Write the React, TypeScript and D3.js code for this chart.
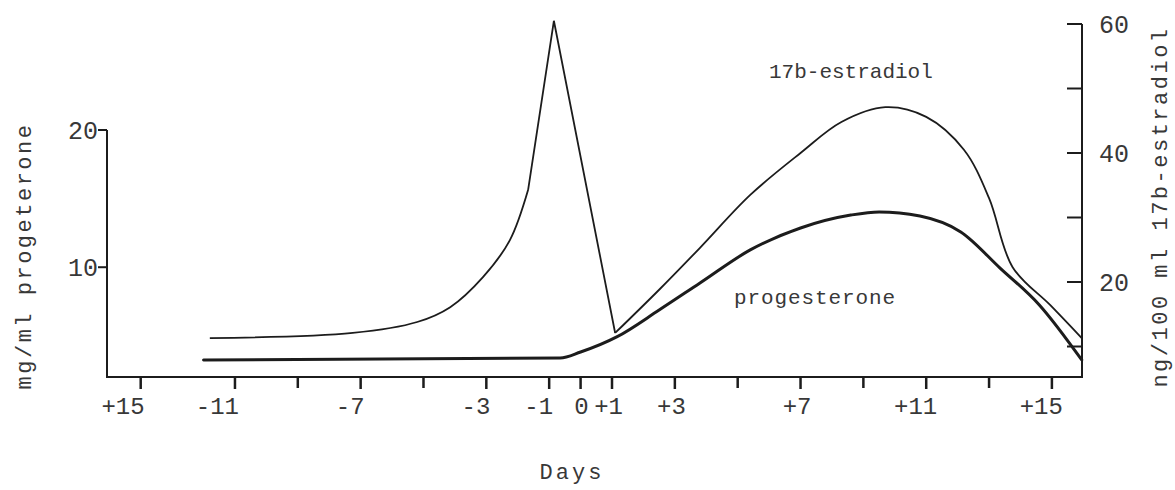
import React from "react";
import * as d3 from "d3";

// ---- data ----
const estradiolDays = [-11.8, -7.25, -5.2, -4.15, -3.1, -2.25, -1.67, -0.85, 1.1, 2.5, 3.8, 5.4, 7.0, 8.3, 9.7, 11.0, 12.2, 13.0, 13.75, 14.95, 15.95];
const estradiolValues = [11.3, 12.1, 13.8, 16.1, 20.8, 26.5, 34.3, 60.5, 12.1, 18.8, 25.3, 33.5, 40.0, 44.8, 47.1, 45.6, 40.5, 33.0, 22.3, 16.4, 11.3];

const progesteroneDays = [-12.0, -0.65, 0, 1.15, 2.5, 3.8, 5.4, 7.0, 8.6, 9.5, 10.8, 12.1, 13.35, 14.6, 15.95];
const progesteroneValues = [3.24, 3.38, 3.82, 4.92, 6.88, 8.85, 11.26, 12.86, 13.8, 14.03, 13.73, 12.57, 9.94, 7.25, 3.24];

const dayTicks = [-14, -11, -9, -7, -5, -3, -1, 0, 1, 3, 5, 7, 9, 11, 13, 15];
const dayTickLabels = ["+15", "-11", "", "-7", "", "-3", "-1", "0", "+1", "+3", "", "+7", "", "+11", "", "+15"];

const progTicks = [20, 10];
const progTickLabels = ["20", "10"];

const estrTicks = [60, 50, 40, 30, 20, 10];
const estrTickLabels = ["60", "", "40", "", "20", ""];

const FONT = "'Liberation Mono', 'DejaVu Sans Mono', monospace";
const INK = "#1c1c1c";
const TEXT = "#383838";

type Pt = { d: number; v: number };

export default function App() {
  const xLeft = 107;
  const xRight = 1082;
  const yBottom = 377;

  const x = d3.scaleLinear().domain([-14, 15]).range([140.7, 1051.9]);
  const yP = d3.scaleLinear().domain([2, 20]).range([377, 130]);
  const yE = d3.scaleLinear().domain([20, 60]).range([282, 24]);

  const eData: Pt[] = estradiolDays.map((d, i) => ({ d, v: estradiolValues[i] }));
  const pData: Pt[] = progesteroneDays.map((d, i) => ({ d, v: progesteroneValues[i] }));

  // estradiol: smooth rise up to the kink, straight spike, smooth after the trough
  const kinkIdx = 6;
  const troughIdx = 8;
  const smoothE = d3.line<Pt>()
    .x((p) => x(p.d))
    .y((p) => yE(p.v))
    .curve(d3.curveCatmullRom.alpha(0.5));
  const linearE = d3.line<Pt>()
    .x((p) => x(p.d))
    .y((p) => yE(p.v));
  const pathE1 = smoothE(eData.slice(0, kinkIdx + 1)) || "";
  const pathE2 = linearE(eData.slice(kinkIdx, troughIdx + 1)) || "";
  const pathE3 = smoothE(eData.slice(troughIdx)) || "";

  const lineP = d3.line<Pt>()
    .x((p) => x(p.d))
    .y((p) => yP(p.v))
    .curve(d3.curveMonotoneX);
  const pathP = lineP(pData) || "";

  // typewritten labels sit with their last digit at the tick
  const labelShift = (t: number) => (t > 0 ? 11 : t === 0 ? 8 : 4);

  return (
    <svg
      width={1175}
      height={490}
      style={{ position: "absolute", left: 0, top: 0, background: "#fff" }}
    >
      <rect x={0} y={0} width={1175} height={490} fill="#fff" />

      {/* axes frame */}
      <path
        d={`M${xLeft},${yP(20)}V${yBottom}H${xRight}V${yE(60)}`}
        fill="none"
        stroke={INK}
        strokeWidth={2}
      />

      {/* left ticks */}
      {progTicks.map((t, i) => (
        <g key={"pl" + t}>
          <line x1={xLeft - 9} x2={xLeft} y1={yP(t)} y2={yP(t)} stroke={INK} strokeWidth={2} />
          <text
            x={xLeft - 9}
            y={yP(t) + 9}
            textAnchor="end"
            fontFamily={FONT}
            fontSize={25}
            fill={TEXT}
          >
            {progTickLabels[i]}
          </text>
        </g>
      ))}

      {/* right ticks */}
      {estrTicks.map((t, i) => (
        <g key={"er" + t}>
          <line x1={xRight - 15} x2={xRight} y1={yE(t)} y2={yE(t)} stroke={INK} strokeWidth={2} />
          {estrTickLabels[i] && (
            <text
              x={xRight + 17}
              y={yE(t) + 9}
              textAnchor="start"
              fontFamily={FONT}
              fontSize={25}
              fill={TEXT}
            >
              {estrTickLabels[i]}
            </text>
          )}
        </g>
      ))}

      {/* bottom ticks */}
      {dayTicks.map((t, i) => (
        <g key={"b" + t}>
          <line x1={x(t)} x2={x(t)} y1={yBottom} y2={yBottom + (dayTickLabels[i] ? 12 : 11)} stroke={INK} strokeWidth={2.5} />
          {dayTickLabels[i] && (
            <text
              x={x(t) + labelShift(t)}
              y={414}
              textAnchor="end"
              fontFamily={FONT}
              fontSize={24}
              fill={TEXT}
            >
              {dayTickLabels[i]}
            </text>
          )}
        </g>
      ))}

      {/* curves */}
      <path d={pathP} fill="none" stroke={INK} strokeWidth={3} strokeLinejoin="round" strokeLinecap="round" />
      <path d={pathE1} fill="none" stroke={INK} strokeWidth={1.8} strokeLinejoin="round" />
      <path d={pathE2} fill="none" stroke={INK} strokeWidth={1.8} strokeLinejoin="miter" />
      <path d={pathE3} fill="none" stroke={INK} strokeWidth={1.8} strokeLinejoin="round" />

      {/* series labels */}
      <text x={769} y={78} textAnchor="start" fontFamily={FONT} fontSize={21} fill={TEXT}>
        17b-estradiol
      </text>
      <text x={734} y={304} textAnchor="start" fontFamily={FONT} fontSize={21} letterSpacing={0.9} fill={TEXT}>
        progesterone
      </text>

      {/* axis titles */}
      <text
        transform={`translate(31,256) rotate(-90)`}
        textAnchor="middle"
        fontFamily={FONT}
        fontSize={22}
        letterSpacing={2.5}
        fill={TEXT}
      >
        mg/ml progeterone
      </text>
      <text
        transform={`translate(1167,207) rotate(-90)`}
        textAnchor="middle"
        fontFamily={FONT}
        fontSize={22}
        letterSpacing={2.5}
        fill={TEXT}
      >
        ng/100 ml 17b-estradiol
      </text>
      <text x={572} y={479} textAnchor="middle" fontFamily={FONT} fontSize={22} letterSpacing={3} fill={TEXT}>
        Days
      </text>
    </svg>
  );
}
